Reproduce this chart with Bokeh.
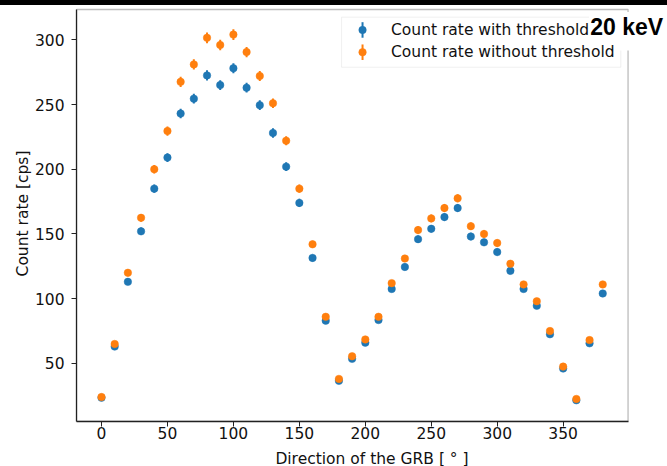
import numpy as np
from bokeh.plotting import figure
from bokeh.models import (ColumnDataSource, Legend, LegendItem, Label, FixedTicker,
                          Range1d, Div, BoxAnnotation)
from bokeh.layouts import column
from bokeh.embed import file_html
from bokeh.resources import INLINE

# ---- data ----
direction = [0, 10, 20, 30, 40, 50, 60, 70, 80, 90, 100, 110, 120, 130, 140, 150,
             160, 170, 180, 190, 200, 210, 220, 230, 240, 250, 260, 270, 280, 290,
             300, 310, 320, 330, 340, 350, 360, 370, 380]

rate_with_threshold = [23.5, 63, 113, 152, 185, 209, 243, 254.5, 272.5, 265, 278, 263,
                       249.5, 228, 202, 174, 131.5, 83, 36.5, 53.5, 66, 83.5, 107.5,
                       124.5, 146, 154, 163, 170, 148, 143.5, 136, 121.5, 107.5, 94.5,
                       72.5, 46, 21.5, 65.5, 104]
err_with_threshold = [1.1, 1.9, 2.5, 2.9, 3.2, 3.4, 3.7, 3.8, 3.9, 3.8, 3.9, 3.8, 3.7,
                      3.6, 3.4, 3.1, 2.7, 2.1, 1.4, 1.7, 1.9, 2.2, 2.4, 2.6, 2.8, 2.9,
                      3.0, 3.1, 2.9, 2.8, 2.7, 2.6, 2.4, 2.3, 2.0, 1.6, 1.1, 1.9, 2.4]

rate_without_threshold = [24, 65, 120, 162.5, 200, 229.5, 267.5, 281, 301.5, 296, 304,
                          290.5, 272, 251, 222, 185, 142, 86, 38, 55.5, 68.5, 86, 112,
                          131, 153, 162, 170, 177.5, 156, 150, 143, 127, 111, 98, 75,
                          47.5, 22.5, 68, 111]
err_without_threshold = [1.2, 1.9, 2.6, 3.0, 3.3, 3.6, 3.9, 4.0, 4.1, 4.1, 4.1, 4.0,
                         3.9, 3.7, 3.5, 3.2, 2.8, 2.2, 1.5, 1.8, 2.0, 2.2, 2.5, 2.7,
                         2.9, 3.0, 3.1, 3.1, 2.9, 2.9, 2.8, 2.7, 2.5, 2.3, 2.0, 1.6,
                         1.1, 1.9, 2.5]

x_ticks = [0, 50, 100, 150, 200, 250, 300, 350]
y_ticks = [50, 100, 150, 200, 250, 300]

series_labels = ["Count rate with threshold", "Count rate without threshold"]
annotation_text = "20 keV"

BLUE = "#1f77b4"
ORANGE = "#ff7f0e"
FONT = "DejaVu Sans"
FS = "15.5px"
INK = "#222222"

# axes box (matplotlib-like) limits in data units
X_LO, X_HI = -18.95, 399.2
Y_LO, Y_HI = 5.1, 323.4

# plotting frame extends to the right page edge so the corner label is not clipped
p = figure(frame_width=591, frame_height=416,
           x_range=Range1d(X_LO, 429.1), y_range=Range1d(Y_LO, 326.5),
           output_backend="svg", toolbar_location=None,
           min_border_left=76, min_border_right=0, min_border_top=0,
           min_border_bottom=45)
p.background_fill_color = "white"
p.border_fill_color = "white"
p.outline_line_color = None
p.xgrid.visible = False
p.ygrid.visible = False

for ax in (p.xaxis[0], p.yaxis[0]):
    ax.axis_line_color = INK
    ax.axis_line_width = 1.3
    ax.major_tick_line_color = INK
    ax.major_tick_line_width = 1
    ax.major_tick_out = 5
    ax.major_tick_in = 0
    ax.minor_tick_line_color = None
    ax.major_label_text_font = FONT
    ax.major_label_text_font_size = FS
    ax.major_label_text_color = "#111111"
    ax.axis_label_text_font = FONT
    ax.axis_label_text_font_size = FS
    ax.axis_label_text_font_style = "normal"
    ax.axis_label_text_color = "#111111"

p.xaxis.ticker = FixedTicker(ticks=x_ticks)
p.yaxis.ticker = FixedTicker(ticks=y_ticks)
p.xaxis.bounds = (X_LO, X_HI)
p.yaxis.bounds = (Y_LO, Y_HI)
p.xaxis.axis_label = "Direction of the GRB [ ° ]"
p.yaxis.axis_label = "Count rate [cps]"
p.xaxis.major_label_standoff = 0
p.xaxis.axis_label_standoff = 8
p.yaxis.major_label_standoff = 7
p.yaxis.axis_label_standoff = 0

# top and right spines
p.add_layout(BoxAnnotation(left=X_LO, right=X_HI, bottom=Y_LO, top=Y_HI,
                           fill_alpha=0, line_color=INK, line_width=1.3))

for rates, errs, color in [(rate_with_threshold, err_with_threshold, BLUE),
                           (rate_without_threshold, err_without_threshold, ORANGE)]:
    lo = [r - e for r, e in zip(rates, errs)]
    hi = [r + e for r, e in zip(rates, errs)]
    src = ColumnDataSource(dict(x=direction, y=rates, lo=lo, hi=hi))
    p.segment(x0="x", y0="lo", x1="x", y1="hi", source=src,
              line_color=color, line_width=2)
    p.scatter(x="x", y="y", source=src, size=7.5, fill_color=color,
              line_color=color, line_width=0.5)

# legend frame (drawn below the symbols and the corner label)
p.add_layout(BoxAnnotation(left=182.0, right=393.7, bottom=278.8, top=317.5,
                           fill_color="white", fill_alpha=0.8,
                           line_color="#cccccc", line_width=1, level="annotation"))

# legend: Bokeh labels, symbols (error bar with dot) drawn on top of the frame
items = []
legend_rows_y = [307.6, 290.4]
legend_glyph_x = 197.9
for k, (color, label) in enumerate([(BLUE, series_labels[0]),
                                    (ORANGE, series_labels[1])]):
    ghost = p.scatter(x=[np.nan], y=[np.nan], size=7.5, fill_alpha=0, line_alpha=0)
    items.append(LegendItem(label=label, renderers=[ghost]))
    gy = legend_rows_y[k]
    p.segment(x0=[legend_glyph_x], y0=[gy - 6.0], x1=[legend_glyph_x], y1=[gy + 6.0],
              line_color=color, line_width=2, level="overlay")
    p.scatter(x=[legend_glyph_x], y=[gy], size=7.5, fill_color=color,
              line_color=color, line_width=0.5, level="overlay")

legend = Legend(items=items, location=(270, 360), padding=5,
                spacing=3, glyph_width=32, glyph_height=19, label_height=19,
                label_standoff=13, label_text_font=FONT,
                label_text_font_size=FS, label_text_color="#111111",
                border_line_color=None, background_fill_alpha=0)
p.add_layout(legend)

# corner annotation with its white box
p.add_layout(BoxAnnotation(left=369.6, right=429.1, bottom=291.7, top=321.5,
                           fill_color="white", fill_alpha=1, line_color=None,
                           level="overlay"))
lab = Label(x=370.5, y=310.0, text=annotation_text, text_font="Liberation Sans",
            text_font_size="23px", text_font_style="bold", text_color="black",
            text_baseline="middle", level="overlay")
p.add_layout(lab)

bar_top = Div(text="", width=667, height=5, margin=0,
              styles={"background-color": "black"})
layout = column(bar_top, p, spacing=0)

open("out.html", "w").write(file_html(layout, INLINE))
